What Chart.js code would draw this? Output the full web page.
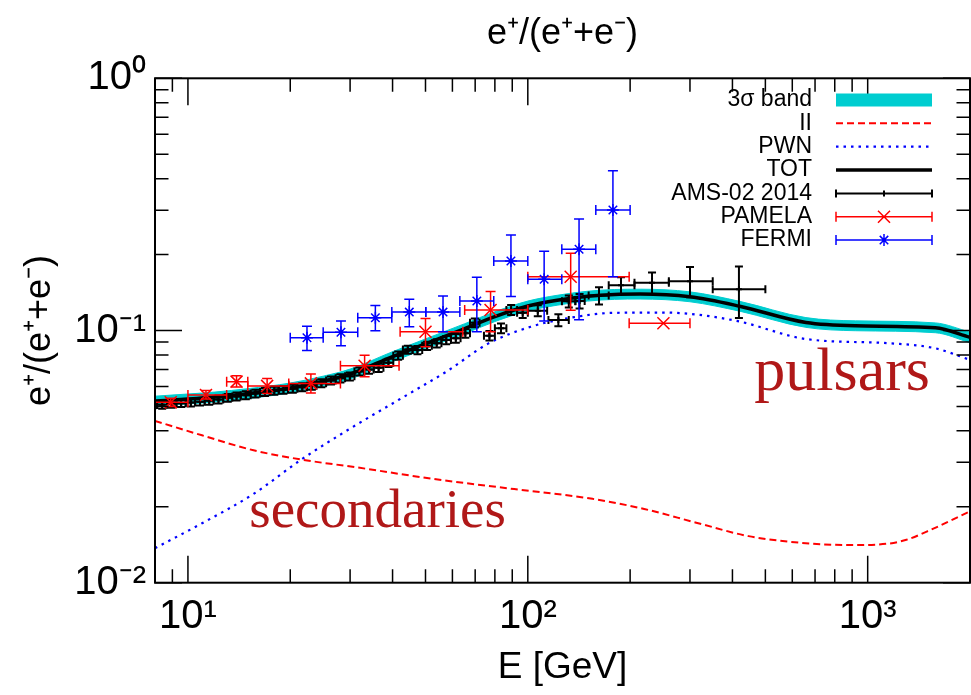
<!DOCTYPE html>
<html>
<head>
<meta charset="utf-8">
<script src="https://cdn.jsdelivr.net/npm/chart.js@4.4.1/dist/chart.umd.min.js"></script>
<style>
  html, body { margin: 0; padding: 0; background: #fff; overflow: hidden; }
  #wrap { position: relative; width: 980px; height: 695px; }
</style>
</head>
<body>
<div id="wrap"><canvas id="chart"></canvas></div>
<script>
// positron fraction e+/(e+ + e-) vs energy

// axes
const xTicks = [10, 100, 1000];
const xTickLabels = ['10¹', '10²', '10³'];
const xMinor = [9, 20, 30, 40, 50, 60, 70, 80, 90, 200, 300, 400, 500, 600, 700, 800, 900];
const yTicks = [0.01, 0.1, 1];
const yTickLabels = ['10⁻²', '10⁻¹', '10⁰'];
const yMinor = [0.02, 0.03, 0.04, 0.05, 0.06, 0.07, 0.08, 0.09, 0.2, 0.3, 0.4, 0.5, 0.6, 0.7, 0.8, 0.9];

// model curves
const totE     = [8, 10, 12, 15, 20, 25, 30, 40, 50, 65, 80, 100, 122, 150, 180, 214, 300, 420, 658, 921, 1580, 2000];
const totFrac  = [0.0525, 0.0535, 0.0545, 0.0562, 0.0592, 0.0630, 0.0672, 0.0788, 0.0885, 0.1015, 0.1135, 0.1250, 0.1318, 0.1368, 0.1390, 0.1394, 0.1360, 0.1248, 0.1076, 0.1044, 0.1025, 0.0940];
const bandLow  = [0.0502, 0.0511, 0.0521, 0.0537, 0.0566, 0.0602, 0.0642, 0.0753, 0.0846, 0.0970, 0.1085, 0.1195, 0.1260, 0.1308, 0.1329, 0.1333, 0.1300, 0.1193, 0.1029, 0.0998, 0.0980, 0.0895];
const bandHigh = [0.0549, 0.0560, 0.0570, 0.0588, 0.0619, 0.0659, 0.0703, 0.0824, 0.0926, 0.1062, 0.1187, 0.1308, 0.1379, 0.1431, 0.1454, 0.1458, 0.1423, 0.1305, 0.1125, 0.1092, 0.1072, 0.0985];

const iiE    = [8, 11, 15.6, 21.5, 31.7, 53.7, 91.2, 155, 220, 313, 446, 635, 887, 1156, 1300, 1532, 2000];
const iiFrac = [0.0438, 0.0384, 0.0335, 0.0308, 0.0286, 0.0257, 0.0235, 0.0215, 0.0196, 0.0173, 0.0153, 0.0144, 0.0141, 0.0143, 0.0148, 0.0162, 0.0192];

const pwnE    = [8, 11, 15.6, 21.5, 29.7, 41.6, 58.2, 76.2, 102, 137, 179, 251, 314, 420, 658, 1154, 1580, 2000];
const pwnFrac = [0.0137, 0.0172, 0.0225, 0.0307, 0.0405, 0.0530, 0.0693, 0.0885, 0.1035, 0.1130, 0.1175, 0.1178, 0.1157, 0.1085, 0.0925, 0.0890, 0.0850, 0.0765];

// AMS-02 2014
const amsE    = [7.85, 8.4, 8.95, 9.55, 10.2, 10.85, 11.55, 12.3, 13.1, 13.9, 14.8, 15.8, 16.85, 17.95, 19.1, 20.35, 21.7, 23.15, 24.7, 26.35, 28.1, 29.95, 31.95, 34.1, 36.4, 38.9, 41.55, 44.35, 47.35, 50.55, 53.95, 57.55, 61.4, 65.5, 69.85, 77.1, 83.4, 89.3, 96.6, 107, 123, 132, 142, 162, 188, 232, 300, 418];
const amsFrac = [0.0507, 0.0508, 0.0512, 0.0515, 0.0518, 0.0522, 0.0527, 0.0533, 0.0541, 0.0548, 0.0554, 0.0562, 0.0571, 0.0577, 0.0582, 0.0588, 0.0596, 0.0604, 0.0618, 0.0634, 0.0646, 0.0658, 0.0688, 0.0700, 0.0712, 0.0745, 0.0795, 0.0840, 0.0837, 0.0870, 0.0890, 0.0917, 0.0931, 0.0975, 0.1074, 0.0954, 0.1020, 0.1206, 0.1177, 0.1198, 0.1100, 0.1305, 0.1310, 0.1375, 0.1510, 0.1547, 0.1569, 0.1457];
const amsErr  = [0.0018, 0.0018, 0.0018, 0.0018, 0.0018, 0.0018, 0.0019, 0.0019, 0.0019, 0.0020, 0.0020, 0.0020, 0.0021, 0.0021, 0.0021, 0.0022, 0.0022, 0.0022, 0.0023, 0.0023, 0.0024, 0.0024, 0.0025, 0.0026, 0.0027, 0.0028, 0.0030, 0.0031, 0.0032, 0.0033, 0.0034, 0.0035, 0.0037, 0.0039, 0.0043, 0.0042, 0.0045, 0.0055, 0.0055, 0.0060, 0.0060, 0.0072, 0.0087, 0.0108, 0.0115, 0.0150, 0.0215, 0.0335];
const amsEMin = [7.60, 8.12, 8.68, 9.25, 9.85, 10.5, 11.2, 11.9, 12.7, 13.5, 14.3, 15.3, 16.3, 17.4, 18.5, 19.7, 21.0, 22.4, 23.9, 25.5, 27.2, 29.0, 30.9, 33.0, 35.2, 37.6, 40.2, 42.9, 45.8, 48.9, 52.2, 55.7, 59.4, 63.4, 67.6, 74.3, 80.0, 86.5, 93.0, 100, 115, 126, 138, 151, 173, 206, 260, 350];
const amsEMax = [8.12, 8.68, 9.25, 9.85, 10.5, 11.2, 11.9, 12.7, 13.5, 14.3, 15.3, 16.3, 17.4, 18.5, 19.7, 21.0, 22.4, 23.9, 25.5, 27.2, 29.0, 30.9, 33.0, 35.2, 37.6, 40.2, 42.9, 45.8, 48.9, 52.2, 55.7, 59.4, 63.4, 67.6, 72.1, 80.0, 86.5, 93.0, 100, 114, 132, 138, 147, 173, 206, 260, 350, 500];

// PAMELA
const pamE    = [8.9, 11.3, 13.9, 17.1, 23.0, 33.1, 50.0, 77.7, 133.7, 250.6];
const pamFrac = [0.0519, 0.0555, 0.0627, 0.0603, 0.0617, 0.0725, 0.0989, 0.1206, 0.1634, 0.1068];
const pamLo   = [0.0500, 0.0535, 0.0597, 0.0562, 0.0565, 0.0656, 0.0862, 0.0989, 0.1204, 0.1068];
const pamHi   = [0.0539, 0.0578, 0.0662, 0.0645, 0.0672, 0.0798, 0.1117, 0.1427, 0.2026, 0.1068];
const pamEMin = [8.0, 10.0, 13.0, 15.0, 19.8, 28.1, 42.1, 65.2, 100, 198.7];
const pamEMax = [10.0, 13.0, 15.0, 19.8, 28.1, 41.8, 64.4, 100, 198.7, 300];

// FERMI
const ferE    = [22.4, 28.2, 35.6, 44.8, 56.3, 70.8, 89.2, 111.7, 141.5, 178];
const ferFrac = [0.0936, 0.0984, 0.1124, 0.1183, 0.1183, 0.1309, 0.1886, 0.1596, 0.2099, 0.3004];
const ferLo   = [0.0833, 0.0870, 0.0998, 0.1035, 0.0989, 0.0989, 0.1363, 0.1090, 0.1102, 0.1634];
const ferHi   = [0.1040, 0.1090, 0.1255, 0.1330, 0.1370, 0.1625, 0.2391, 0.2064, 0.2769, 0.4299];
const ferEMin = [20.0, 25.0, 31.6, 39.8, 50.1, 63.1, 79.4, 100, 125.9, 158.5];
const ferEMax = [25.0, 31.6, 39.8, 50.1, 63.1, 79.4, 100, 125.9, 158.5, 200];

const CYAN = '#00cdd0';
const RED = '#ff0000';
const BLUE = '#0000ff';
const FONT = "'Liberation Sans', Arial, sans-serif";

const xy = (xs, ys) => xs.map((x, i) => ({ x: x, y: ys[i] }));
const withErr = (xs, ys, xLo, xHi, yLo, yHi) =>
    xs.map((x, i) => ({ x: x, y: ys[i], xMin: xLo[i], xMax: xHi[i], yMin: yLo[i], yMax: yHi[i] }));

// error bars with end caps, gnuplot xyerrorbars style
const errorBars = {
    id: 'errorBars',
    afterDatasetDraw(chart, args) {
        const ds = chart.data.datasets[args.index];
        if (!ds.errBar) return;
        const { ctx, chartArea: a } = chart;
        const sx = chart.scales.x, sy = chart.scales.y;
        const c = ds.errBar.cap;
        ctx.save();
        ctx.beginPath();
        ctx.rect(a.left, a.top, a.right - a.left, a.bottom - a.top);
        ctx.clip();
        ctx.strokeStyle = ds.borderColor;
        ctx.lineWidth = ds.errBar.width;
        ds.data.forEach(p => {
            const px = sx.getPixelForValue(p.x), py = sy.getPixelForValue(p.y);
            const x0 = sx.getPixelForValue(p.xMin), x1 = sx.getPixelForValue(p.xMax);
            ctx.beginPath();
            ctx.moveTo(x0, py); ctx.lineTo(x1, py);
            ctx.moveTo(x0, py - c); ctx.lineTo(x0, py + c);
            ctx.moveTo(x1, py - c); ctx.lineTo(x1, py + c);
            if (p.yMax > p.yMin) {
                const y0 = sy.getPixelForValue(p.yMin), y1 = sy.getPixelForValue(p.yMax);
                ctx.moveTo(px, y0); ctx.lineTo(px, y1);
                ctx.moveTo(px - c, y0); ctx.lineTo(px + c, y0);
                ctx.moveTo(px - c, y1); ctx.lineTo(px + c, y1);
            }
            ctx.stroke();
        });
        ctx.restore();
    }
};

// border with ticks on all four sides (mirror)
const frameTicks = {
    id: 'frameTicks',
    afterDraw(chart, args, o) {
        const { ctx, chartArea: a } = chart;
        const sx = chart.scales.x, sy = chart.scales.y;
        ctx.save();
        ctx.strokeStyle = '#000';
        ctx.lineWidth = o.tickWidth;
        const tickX = (v, len) => {
            const p = sx.getPixelForValue(v);
            ctx.moveTo(p, a.bottom); ctx.lineTo(p, a.bottom - len);
            ctx.moveTo(p, a.top); ctx.lineTo(p, a.top + len);
        };
        const tickY = (v, len) => {
            const p = sy.getPixelForValue(v);
            ctx.moveTo(a.left, p); ctx.lineTo(a.left + len, p);
            ctx.moveTo(a.right, p); ctx.lineTo(a.right - len, p);
        };
        ctx.beginPath();
        xTicks.forEach(v => tickX(v, o.major));
        xMinor.forEach(v => tickX(v, o.minor));
        yTicks.forEach(v => tickY(v, o.major));
        yMinor.forEach(v => tickY(v, o.minor));
        ctx.stroke();
        ctx.lineWidth = o.borderWidth;
        ctx.strokeRect(a.left, a.top, a.right - a.left, a.bottom - a.top);
        ctx.restore();
    }
};

// key in the upper right: text right aligned, sample to its right
const gnuLegend = {
    id: 'gnuLegend',
    afterDraw(chart, args, o) {
        const ctx = chart.ctx;
        const items = chart.data.datasets
            .filter(d => d.keyRank !== undefined)
            .sort((p, q) => p.keyRank - q.keyRank);
        ctx.save();
        ctx.font = o.font;
        ctx.textAlign = 'right';
        ctx.textBaseline = 'middle';
        items.forEach((d, i) => {
            const y = o.top + i * o.rowHeight;
            const x0 = o.sampleLeft, x1 = o.sampleRight, xm = (x0 + x1) / 2;
            ctx.fillStyle = '#000';
            ctx.fillText(d.label, o.textRight, y);
            ctx.setLineDash([]);
            if (d.keyKind === 'band') {
                ctx.fillStyle = d.backgroundColor;
                ctx.fillRect(x0, y - 6.5, x1 - x0, 13);
                return;
            }
            ctx.strokeStyle = d.borderColor;
            ctx.beginPath();
            if (d.keyKind === 'line') {
                ctx.lineWidth = d.borderWidth;
                ctx.setLineDash(d.borderDash || []);
                ctx.moveTo(x0, y); ctx.lineTo(x1, y);
                ctx.stroke();
                return;
            }
            const c = d.errBar.cap, r = d.pointRadius;
            ctx.lineWidth = d.errBar.width;
            ctx.moveTo(x0, y); ctx.lineTo(x1, y);
            ctx.moveTo(x0, y - c); ctx.lineTo(x0, y + c);
            ctx.moveTo(x1, y - c); ctx.lineTo(x1, y + c);
            if (d.pointStyle === 'cross' || d.pointStyle === 'star') {
                ctx.moveTo(xm, y - r); ctx.lineTo(xm, y + r);
            }
            if (d.pointStyle === 'star') {
                ctx.moveTo(xm - r, y); ctx.lineTo(xm + r, y);
            }
            if (d.pointStyle === 'crossRot' || d.pointStyle === 'star') {
                const k = r * 0.707;
                ctx.moveTo(xm - k, y - k); ctx.lineTo(xm + k, y + k);
                ctx.moveTo(xm - k, y + k); ctx.lineTo(xm + k, y - k);
            }
            ctx.stroke();
        });
        ctx.restore();
    }
};

// free text labels placed in data coordinates
const plotLabels = {
    id: 'plotLabels',
    afterDraw(chart, args, o) {
        const ctx = chart.ctx;
        ctx.save();
        ctx.textAlign = 'left';
        ctx.textBaseline = 'alphabetic';
        o.items.forEach(t => {
            ctx.font = t.font;
            ctx.fillStyle = t.color;
            ctx.fillText(t.text, chart.scales.x.getPixelForValue(t.x), chart.scales.y.getPixelForValue(t.y));
        });
        ctx.restore();
    }
};

const lineDefaults = { showLine: true, pointRadius: 0, fill: false, cubicInterpolationMode: 'monotone' };
const markDefaults = { showLine: false, pointBackgroundColor: 'rgba(0,0,0,0)' };

new Chart(document.getElementById('chart'), {
    type: 'line',
    data: {
        datasets: [
            {
                ...markDefaults, label: 'FERMI', keyRank: 6, keyKind: 'err',
                data: withErr(ferE, ferFrac, ferEMin, ferEMax, ferLo, ferHi),
                borderColor: BLUE, pointBorderColor: BLUE, pointStyle: 'star', pointRadius: 6, pointBorderWidth: 1.5,
                errBar: { width: 1.5, cap: 5 }
            },
            {
                ...markDefaults, label: 'PAMELA', keyRank: 5, keyKind: 'err',
                data: withErr(pamE, pamFrac, pamEMin, pamEMax, pamLo, pamHi),
                borderColor: RED, pointBorderColor: RED, pointStyle: 'crossRot', pointRadius: 8.5, pointBorderWidth: 1.5,
                errBar: { width: 1.5, cap: 5 }
            },
            {
                ...markDefaults, label: 'AMS-02 2014', keyRank: 4, keyKind: 'err',
                data: withErr(amsE, amsFrac, amsEMin, amsEMax,
                    amsFrac.map((f, i) => f - amsErr[i]), amsFrac.map((f, i) => f + amsErr[i])),
                borderColor: '#000', pointBorderColor: '#000', pointStyle: 'cross', pointRadius: 3, pointBorderWidth: 2,
                errBar: { width: 2, cap: 4 }
            },
            {
                ...lineDefaults, label: 'TOT', keyRank: 3, keyKind: 'line',
                data: xy(totE, totFrac), borderColor: '#000', borderWidth: 3.5
            },
            {
                ...lineDefaults, label: 'PWN', keyRank: 2, keyKind: 'line',
                data: xy(pwnE, pwnFrac), borderColor: BLUE, borderWidth: 2.2, borderDash: [2.5, 5]
            },
            {
                ...lineDefaults, label: 'II', keyRank: 1, keyKind: 'line',
                data: xy(iiE, iiFrac), borderColor: RED, borderWidth: 2, borderDash: [7, 4]
            },
            {
                ...lineDefaults, label: '3σ band', keyRank: 0, keyKind: 'band',
                data: xy(totE, bandHigh), borderColor: CYAN, borderWidth: 1,
                backgroundColor: CYAN, fill: '+1'
            },
            {
                ...lineDefaults, label: '3σ low',
                data: xy(totE, bandLow), borderColor: CYAN, borderWidth: 1
            }
        ]
    },
    options: {
        responsive: true,
        maintainAspectRatio: false,
        animation: false,
        events: [],
        layout: { padding: { left: 0, right: 4.4, top: 0, bottom: 0 } },
        scales: {
            x: {
                type: 'logarithmic', min: 8, max: 2000,
                afterBuildTicks: s => { s.ticks = xTicks.map(v => ({ value: v })); },
                afterFit: s => { s.height = 112.3; },
                grid: { display: false, drawTicks: false },
                border: { display: false },
                ticks: {
                    autoSkip: false, maxRotation: 0, padding: 10, color: '#000',
                    font: { family: FONT, size: 40 },
                    callback: (v, i) => xTickLabels[i]
                },
                title: {
                    display: true, text: 'E [GeV]', color: '#000',
                    font: { family: FONT, size: 37 }, padding: { top: 0, bottom: 5 }
                }
            },
            y: {
                type: 'logarithmic', min: 0.01, max: 1,
                afterBuildTicks: s => { s.ticks = yTicks.map(v => ({ value: v })); },
                afterFit: s => { s.width = 155; },
                grid: { display: false, drawTicks: false },
                border: { display: false },
                ticks: {
                    autoSkip: false, padding: 9, color: '#000',
                    font: { family: FONT, size: 40 },
                    callback: (v, i) => yTickLabels[i]
                },
                title: {
                    display: true, text: 'e⁺/(e⁺+e⁻)', color: '#000',
                    font: { family: FONT, size: 36 }, padding: { top: 18, bottom: 0 }
                }
            }
        },
        plugins: {
            legend: { display: false },
            tooltip: { enabled: false },
            title: {
                display: true, fullSize: false, text: 'e⁺/(e⁺+e⁻)', color: '#000',
                font: { family: FONT, size: 36, weight: 'normal' },
                padding: { top: 12, bottom: 23.1 }
            },
            frameTicks: { major: 27, minor: 13.5, tickWidth: 1.5, borderWidth: 2 },
            gnuLegend: {
                font: '23px ' + FONT, textRight: 812, sampleLeft: 836, sampleRight: 932,
                top: 100, rowHeight: 23.35
            },
            plotLabels: {
                items: [
                    { text: 'secondaries', x: 15.15, y: 0.01663, font: '55px "Liberation Serif", serif', color: '#b01818' },
                    { text: 'pulsars', x: 464, y: 0.0581, font: '62px "Liberation Serif", serif', color: '#b01818' }
                ]
            }
        }
    },
    plugins: [errorBars, frameTicks, gnuLegend, plotLabels]
});
</script>
</body>
</html>
